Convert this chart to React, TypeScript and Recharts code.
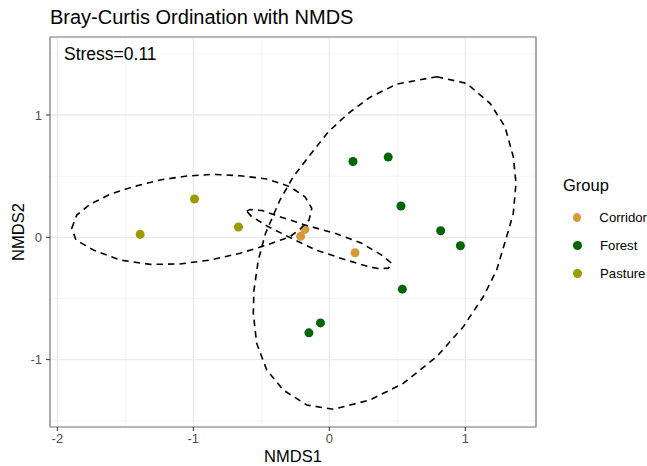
import React from "react";
import {
  CartesianGrid,
  ComposedChart,
  ReferenceArea,
  Scatter,
  XAxis,
  YAxis,
} from "recharts";

// NMDS scores
const corridorX = [-0.211, -0.179, 0.189];
const corridorY = [0.008, 0.065, -0.126];
const forestX = [0.174, 0.433, 0.527, 0.819, 0.964, 0.537, -0.065, -0.15];
const forestY = [0.62, 0.656, 0.256, 0.054, -0.069, -0.424, -0.7, -0.781];
const pastureX = [-1.391, -0.991, -0.668];
const pastureY = [0.024, 0.313, 0.084];

// 95% ellipse outlines
const corridorEllX = [-0.607, -0.582, -0.495, -0.4, -0.179, 0.042, 0.238, 0.385, 0.459, 0.434, 0.358, 0.287, 0.101, -0.098, -0.282, -0.451, -0.576];
const corridorEllY = [0.215, 0.227, 0.219, 0.182, 0.101, 0.033, -0.049, -0.145, -0.213, -0.253, -0.255, -0.24, -0.177, -0.104, -0.006, 0.088, 0.174];
const forestEllX = [0.79, 1.01, 1.182, 1.292, 1.353, 1.373, 1.353, 1.304, 1.231, 1.132, 0.985, 0.79, 0.544, 0.299, 0.029, -0.166, -0.338, -0.46, -0.534, -0.559, -0.554, -0.522, -0.47, -0.363, -0.265, -0.142, -0.007, 0.14, 0.299, 0.496];
const forestEllY = [1.313, 1.259, 1.096, 0.904, 0.659, 0.442, 0.196, 0.005, -0.267, -0.486, -0.731, -0.976, -1.194, -1.33, -1.406, -1.371, -1.249, -1.085, -0.867, -0.621, -0.431, -0.186, 0.03, 0.305, 0.496, 0.673, 0.863, 1.014, 1.145, 1.253];
const pastureEllX = [-1.894, -1.857, -1.76, -1.612, -1.441, -1.245, -1.049, -0.853, -0.657, -0.46, -0.289, -0.179, -0.129, -0.149, -0.215, -0.289, -0.46, -0.657, -0.877, -1.098, -1.318, -1.539, -1.735, -1.863];
const pastureEllY = [0.074, 0.182, 0.27, 0.352, 0.414, 0.469, 0.501, 0.515, 0.504, 0.477, 0.414, 0.332, 0.237, 0.141, 0.068, 0.005, -0.063, -0.131, -0.186, -0.218, -0.221, -0.186, -0.104, -0.022];

const groupNames = ["Corridor", "Forest", "Pasture"];
const groupColors = ["#D59B3A", "#006400", "#9C9C00"];

const xMajorTicks = [-2, -1, 0, 1];
const xMinorTicks = [-1.5, -0.5, 0.5, 1.5];
const yMajorTicks = [-1, 0, 1];
const yMinorTicks = [-1.5, -0.5, 0.5, 1.5];
const xDomain: [number, number] = [-2.054, 1.52];
const yDomain: [number, number] = [-1.551, 1.638];

const zip = (xs: number[], ys: number[]) => xs.map((x, i) => ({ x, y: ys[i] }));

const groups = [
  { pts: zip(corridorX, corridorY), ell: zip(corridorEllX, corridorEllY) },
  { pts: zip(forestX, forestY), ell: zip(forestEllX, forestEllY) },
  { pts: zip(pastureX, pastureY), ell: zip(pastureEllX, pastureEllY) },
];

const font = '"Liberation Sans", Arial, Helvetica, sans-serif';
const tickStyle = { fill: "#4D4D4D", fontSize: 13, fontFamily: font };

export default function App() {
  return (
    <div style={{ position: "absolute", left: 0, top: 0, width: 647, height: 466, background: "#fff", fontFamily: font }}>
      <ComposedChart width={647} height={466} margin={{ top: 37, right: 111, bottom: 0, left: 0 }}>
        <XAxis xAxisId="minor" type="number" dataKey="x" domain={xDomain} ticks={xMinorTicks} allowDataOverflow hide />
        <YAxis yAxisId="minor" type="number" dataKey="y" domain={yDomain} ticks={yMinorTicks} allowDataOverflow hide />
        <CartesianGrid xAxisId="minor" yAxisId="minor" stroke="#F1F1F1" strokeWidth={0.7} />
        <CartesianGrid stroke="#EBEBEB" strokeWidth={1.3} />
        <XAxis
          type="number"
          dataKey="x"
          domain={xDomain}
          ticks={xMajorTicks}
          interval={0}
          allowDataOverflow
          height={39}
          tick={tickStyle}
          tickSize={4}
          tickMargin={3}
          tickLine={{ stroke: "#333" }}
          axisLine={false}
          label={{ value: "NMDS1", position: "insideBottom", offset: 4, fill: "#000", fontSize: 16.5, fontFamily: font }}
        />
        <YAxis
          type="number"
          dataKey="y"
          domain={yDomain}
          ticks={yMajorTicks}
          interval={0}
          allowDataOverflow
          width={50}
          tick={tickStyle}
          tickSize={4}
          tickMargin={4}
          tickLine={{ stroke: "#333" }}
          axisLine={false}
          label={{ value: "NMDS2", angle: -90, position: "center", dx: -7, fill: "#000", fontSize: 16.5, fontFamily: font }}
        />
        {groups.map((g, i) => (
          <Scatter
            key={groupNames[i]}
            name={groupNames[i]}
            data={g.pts}
            fill={groupColors[i]}
            shape="circle"
            isAnimationActive={false}
          />
        ))}
        {groups.map((g, i) => (
          <Scatter
            key={groupNames[i] + "-ell"}
            data={g.ell}
            fill="#000"
            shape={() => <g />}
            line={{ stroke: "#000", strokeWidth: 1.6, strokeDasharray: "6.5 5" }}
            lineJointType="linearClosed"
            legendType="none"
            isAnimationActive={false}
          />
        ))}
        <ReferenceArea x1={xDomain[0]} x2={xDomain[1]} y1={yDomain[0]} y2={yDomain[1]} fill="none" fillOpacity={0} stroke="#7F7F7F" strokeWidth={1.2} ifOverflow="visible" />
      </ComposedChart>

      <div style={{ position: "absolute", left: 50, top: 7, fontSize: 20, lineHeight: 1, color: "#000", whiteSpace: "nowrap" }}>
        Bray-Curtis Ordination with NMDS
      </div>
      <div style={{ position: "absolute", left: 64, top: 46, fontSize: 17.5, lineHeight: 1, color: "#000", whiteSpace: "nowrap" }}>
        Stress=0.11
      </div>

      <div style={{ position: "absolute", left: 563, top: 176.5, width: 84, overflow: "hidden" }}>
        <div style={{ fontSize: 16.5, lineHeight: 1, color: "#000" }}>Group</div>
        <div style={{ marginTop: 10 }}>
          {groupNames.map((name, i) => (
            <div key={name} style={{ display: "flex", alignItems: "center", height: 28.3 }}>
              <span style={{ display: "inline-block", width: 9, height: 9, borderRadius: "50%", background: groupColors[i], marginLeft: 9.5 }} />
              <span style={{ marginLeft: 18.5, fontSize: 13.2, whiteSpace: "nowrap" }}>{name}</span>
            </div>
          ))}
        </div>
      </div>
    </div>
  );
}
